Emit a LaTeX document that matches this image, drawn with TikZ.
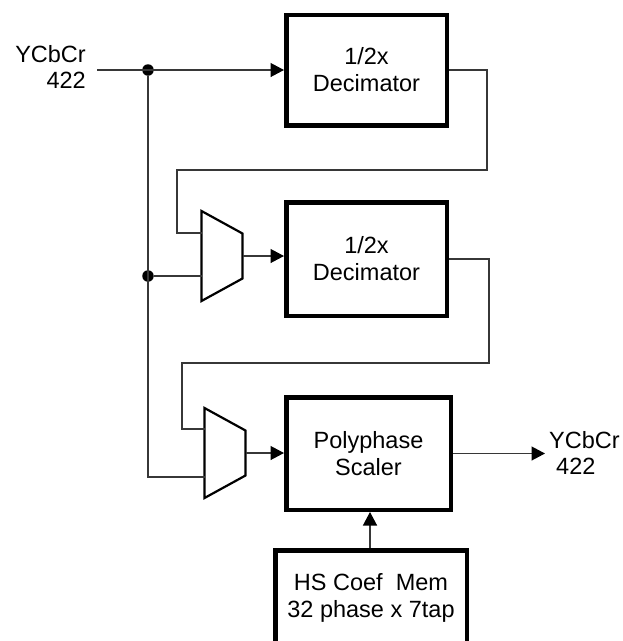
\documentclass[tikz,border=0pt]{standalone}
\usepackage{fontspec}
\setmainfont{Liberation Sans}
\usetikzlibrary{arrows.meta,positioning,shapes.geometric,calc}
\definecolor{WireGray}{RGB}{55,55,55}
\tikzset{
  block/.style={draw,line width=4.5pt,minimum width=160.5pt,minimum height=110.5pt,
    align=center,inner sep=0pt,font=\fontsize{23.5}{27}\selectfont},
  muxline/.style={draw,line width=2.2pt,line join=miter},
  wire/.style={line width=1.3pt,WireGray},
  arrow/.style={wire,-{Triangle[length=13.5pt,width=14pt,color=black]}},
  junction/.style={circle,fill=black,inner sep=0pt,minimum size=11.5pt},
  iolabel/.style={inner sep=0pt,font=\fontsize{23.5}{26}\selectfont}
}

\begin{document}
\begin{tikzpicture}[x=1pt,y=-1pt]
  \useasboundingbox (0,0) rectangle (623,641);
  \clip (0,0) rectangle (623,641);
  % blocks
  \node[block] (dec1) at (366.5,70) {1/2x\\Decimator};
  \node[block,minimum height=113.5pt] (dec2) at (366.5,259) {1/2x\\Decimator};
  \node[block,minimum width=164.5pt,minimum height=112.5pt] (scaler) at (368.5,453.5) {Polyphase\\Scaler};
  \node[block,minimum width=191.5pt,minimum height=94.5pt] (coef) at (371,597.5) {HS Coef\ \ Mem\\32 phase x 7tap};
  % muxes
  \coordinate (mux1) at (222,256);
  \coordinate (mux2) at (225,453);
  \foreach \m in {mux1,mux2}
    \draw[muxline] ($(\m)+(-20.5,-45)$) -- ($(\m)+(20.5,-22.5)$)
      -- ($(\m)+(20.5,22.5)$) -- ($(\m)+(-20.5,45)$) -- cycle;
  \coordinate (m1a) at ($(mux1)+(-20.5,-23)$);
  \coordinate (m1b) at ($(mux1)+(-20.5,20)$);
  \coordinate (m1o) at ($(mux1)+(20.5,0)$);
  \coordinate (m2a) at ($(mux2)+(-20.5,-24)$);
  \coordinate (m2b) at ($(mux2)+(-20.5,24)$);
  \coordinate (m2o) at ($(mux2)+(20.5,0)$);
  % input / output
  \coordinate (in) at (97,70);
  \coordinate (out) at (545,453.5);
  \node[iolabel,align=right,anchor=east] (inlbl) at (86,67) {YCbCr\\422};
  \node[iolabel,align=left,anchor=west] (outlbl) at (549,453) {YCbCr\\\hspace*{7pt}422};
  \node[junction] (j1) at (148,70) {};
  \node[junction] (j2) at (148,276) {};
  % feedback corners
  \coordinate (fb1) at (487,170);
  \coordinate (fb1b) at (177,233);
  \coordinate (fb2) at (489,363);
  \coordinate (fb2b) at (182,429);
  % wires
  \draw[arrow] (in) -- (dec1.west);
  \draw[wire] (j1) |- (m2b);
  \draw[wire] (j2) -- (m1b);
  \draw[wire] (dec1.east) -| (fb1) -| (fb1b) -- (m1a);
  \draw[wire] (dec2.east) -| (fb2) -| (fb2b) -- (m2a);
  \draw[arrow] (m1o) -- (dec2.west |- m1o);
  \draw[arrow] (m2o) -- (scaler.west |- m2o);
  \draw[arrow] (scaler.east) -- (out);
  \draw[arrow] (coef.north -| 370,0) -- (scaler.south -| 370,0);
\end{tikzpicture}
\end{document}
